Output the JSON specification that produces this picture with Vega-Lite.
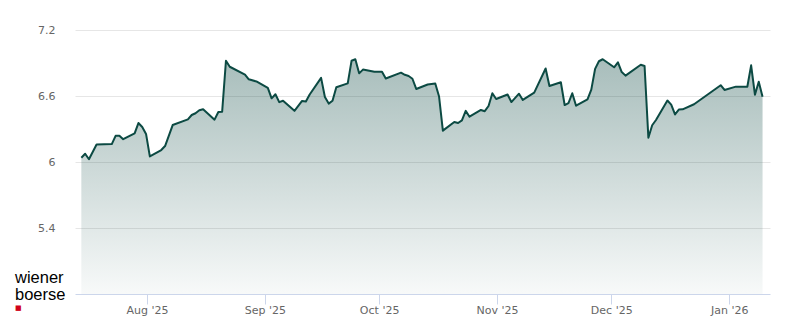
{
  "$schema": "https://vega.github.io/schema/vega-lite/v6.json",
  "width": 695,
  "height": 264,
  "autosize": "none",
  "padding": {"left": 75, "top": 30, "right": 30, "bottom": 30},
  "background": "white",
  "config": {"view": {"stroke": null}, "font": "DejaVu Sans"},
  "title": {
    "text": ["wiener", "boerse"],
    "subtitle": "■",
    "orient": "bottom",
    "anchor": "start",
    "frame": "group",
    "dx": -60,
    "dy": -49,
    "font": "Liberation Sans",
    "fontSize": 16.5,
    "fontWeight": "normal",
    "color": "#000000",
    "lineHeight": 17,
    "subtitleFont": "DejaVu Sans",
    "subtitleColor": "#d0021b",
    "subtitleFontSize": 7,
    "subtitlePadding": 0
  },
  "data": {
    "values": [
      {"date": "2025-07-14T18:00", "close": 6.039},
      {"date": "2025-07-15T18:00", "close": 6.075},
      {"date": "2025-07-16T18:00", "close": 6.025},
      {"date": "2025-07-18T18:00", "close": 6.159},
      {"date": "2025-07-22T18:00", "close": 6.163},
      {"date": "2025-07-23T18:00", "close": 6.238},
      {"date": "2025-07-24T18:00", "close": 6.239},
      {"date": "2025-07-25T18:00", "close": 6.207},
      {"date": "2025-07-28T18:00", "close": 6.261},
      {"date": "2025-07-29T18:00", "close": 6.354},
      {"date": "2025-07-30T18:00", "close": 6.318},
      {"date": "2025-07-31T18:00", "close": 6.255},
      {"date": "2025-08-01T18:00", "close": 6.051},
      {"date": "2025-08-04T18:00", "close": 6.109},
      {"date": "2025-08-05T18:00", "close": 6.145},
      {"date": "2025-08-07T18:00", "close": 6.336},
      {"date": "2025-08-11T18:00", "close": 6.388},
      {"date": "2025-08-12T18:00", "close": 6.427},
      {"date": "2025-08-13T18:00", "close": 6.443},
      {"date": "2025-08-14T18:00", "close": 6.47},
      {"date": "2025-08-15T18:00", "close": 6.479},
      {"date": "2025-08-18T18:00", "close": 6.385},
      {"date": "2025-08-19T18:00", "close": 6.455},
      {"date": "2025-08-20T18:00", "close": 6.457},
      {"date": "2025-08-21T18:00", "close": 6.92},
      {"date": "2025-08-22T18:00", "close": 6.866},
      {"date": "2025-08-26T18:00", "close": 6.795},
      {"date": "2025-08-27T18:00", "close": 6.752},
      {"date": "2025-08-29T18:00", "close": 6.732},
      {"date": "2025-09-01T18:00", "close": 6.673},
      {"date": "2025-09-02T18:00", "close": 6.579},
      {"date": "2025-09-03T18:00", "close": 6.616},
      {"date": "2025-09-04T18:00", "close": 6.544},
      {"date": "2025-09-05T18:00", "close": 6.557},
      {"date": "2025-09-08T18:00", "close": 6.465},
      {"date": "2025-09-10T18:00", "close": 6.555},
      {"date": "2025-09-11T18:00", "close": 6.55},
      {"date": "2025-09-12T18:00", "close": 6.614},
      {"date": "2025-09-15T18:00", "close": 6.765},
      {"date": "2025-09-16T18:00", "close": 6.591},
      {"date": "2025-09-17T18:00", "close": 6.531},
      {"date": "2025-09-18T18:00", "close": 6.557},
      {"date": "2025-09-19T18:00", "close": 6.679},
      {"date": "2025-09-22T18:00", "close": 6.715},
      {"date": "2025-09-23T18:00", "close": 6.92},
      {"date": "2025-09-24T18:00", "close": 6.934},
      {"date": "2025-09-25T18:00", "close": 6.806},
      {"date": "2025-09-26T18:00", "close": 6.84},
      {"date": "2025-09-29T18:00", "close": 6.82},
      {"date": "2025-10-01T18:00", "close": 6.82},
      {"date": "2025-10-02T18:00", "close": 6.759},
      {"date": "2025-10-06T18:00", "close": 6.812},
      {"date": "2025-10-07T18:00", "close": 6.793},
      {"date": "2025-10-08T18:00", "close": 6.782},
      {"date": "2025-10-09T18:00", "close": 6.757},
      {"date": "2025-10-10T18:00", "close": 6.664},
      {"date": "2025-10-13T18:00", "close": 6.705},
      {"date": "2025-10-15T18:00", "close": 6.714},
      {"date": "2025-10-16T18:00", "close": 6.595},
      {"date": "2025-10-17T18:00", "close": 6.285},
      {"date": "2025-10-20T18:00", "close": 6.364},
      {"date": "2025-10-21T18:00", "close": 6.355},
      {"date": "2025-10-22T18:00", "close": 6.379},
      {"date": "2025-10-23T18:00", "close": 6.465},
      {"date": "2025-10-24T18:00", "close": 6.412},
      {"date": "2025-10-27T18:00", "close": 6.473},
      {"date": "2025-10-28T18:00", "close": 6.462},
      {"date": "2025-10-29T18:00", "close": 6.509},
      {"date": "2025-10-30T18:00", "close": 6.625},
      {"date": "2025-10-31T18:00", "close": 6.573},
      {"date": "2025-11-03T18:00", "close": 6.614},
      {"date": "2025-11-04T18:00", "close": 6.545},
      {"date": "2025-11-06T18:00", "close": 6.621},
      {"date": "2025-11-07T18:00", "close": 6.564},
      {"date": "2025-11-10T18:00", "close": 6.631},
      {"date": "2025-11-13T18:00", "close": 6.85},
      {"date": "2025-11-14T18:00", "close": 6.691},
      {"date": "2025-11-17T18:00", "close": 6.725},
      {"date": "2025-11-18T18:00", "close": 6.518},
      {"date": "2025-11-19T18:00", "close": 6.536},
      {"date": "2025-11-20T18:00", "close": 6.625},
      {"date": "2025-11-21T18:00", "close": 6.512},
      {"date": "2025-11-24T18:00", "close": 6.57},
      {"date": "2025-11-25T18:00", "close": 6.658},
      {"date": "2025-11-26T18:00", "close": 6.847},
      {"date": "2025-11-27T18:00", "close": 6.916},
      {"date": "2025-11-28T18:00", "close": 6.934},
      {"date": "2025-12-01T18:00", "close": 6.861},
      {"date": "2025-12-02T18:00", "close": 6.906},
      {"date": "2025-12-03T18:00", "close": 6.818},
      {"date": "2025-12-04T18:00", "close": 6.785},
      {"date": "2025-12-08T18:00", "close": 6.884},
      {"date": "2025-12-09T18:00", "close": 6.873},
      {"date": "2025-12-10T18:00", "close": 6.22},
      {"date": "2025-12-11T18:00", "close": 6.334},
      {"date": "2025-12-12T18:00", "close": 6.382},
      {"date": "2025-12-15T18:00", "close": 6.559},
      {"date": "2025-12-16T18:00", "close": 6.522},
      {"date": "2025-12-17T18:00", "close": 6.432},
      {"date": "2025-12-18T18:00", "close": 6.477},
      {"date": "2025-12-19T18:00", "close": 6.479},
      {"date": "2025-12-22T18:00", "close": 6.525},
      {"date": "2025-12-29T18:00", "close": 6.698},
      {"date": "2025-12-30T18:00", "close": 6.655},
      {"date": "2026-01-02T18:00", "close": 6.685},
      {"date": "2026-01-05T18:00", "close": 6.684},
      {"date": "2026-01-06T18:00", "close": 6.879},
      {"date": "2026-01-07T18:00", "close": 6.612},
      {"date": "2026-01-08T18:00", "close": 6.73},
      {"date": "2026-01-09T18:00", "close": 6.594}
    ]
  },
  "encoding": {
    "x": {
      "field": "date",
      "type": "temporal",
      "scale": {
        "domain": [
          {"year": 2025, "month": 7, "date": 13, "hours": 2},
          {"year": 2026, "month": 1, "date": 11, "hours": 17}
        ]
      },
      "axis": {
        "title": null,
        "format": "%b '%y",
        "tickCount": {"interval": "month", "step": 1},
        "grid": false,
        "domainColor": "#ccd6eb",
        "tickColor": "#ccd6eb",
        "tickSize": 10,
        "labelColor": "#666666",
        "labelFont": "DejaVu Sans",
        "labelFontSize": 11,
        "labelPadding": 0,
        "labelFlush": false,
        "labelOverlap": false
      }
    },
    "y": {
      "field": "close",
      "type": "quantitative",
      "scale": {"domain": [4.8, 7.2], "zero": false, "nice": false},
      "axis": {
        "title": null,
        "values": [5.4, 6, 6.6, 7.2],
        "format": "~g",
        "domain": false,
        "ticks": false,
        "grid": true,
        "gridColor": "#e6e6e6",
        "gridWidth": 1,
        "labelColor": "#666666",
        "labelFont": "DejaVu Sans",
        "labelFontSize": 11,
        "labelPadding": 20
      }
    }
  },
  "layer": [
    {
      "mark": {
        "type": "area",
        "color": {
          "gradient": "linear",
          "x1": 0, "y1": 0, "x2": 0, "y2": 1,
          "stops": [
            {"offset": 0, "color": "rgba(13,73,67,0.36)"},
            {"offset": 1, "color": "rgba(13,73,67,0.03)"}
          ]
        }
      },
      "encoding": {"y2": {"datum": 4.8}}
    },
    {
      "mark": {"type": "line", "color": "#0c4a43", "strokeWidth": 2, "strokeJoin": "round"}
    }
  ]
}
